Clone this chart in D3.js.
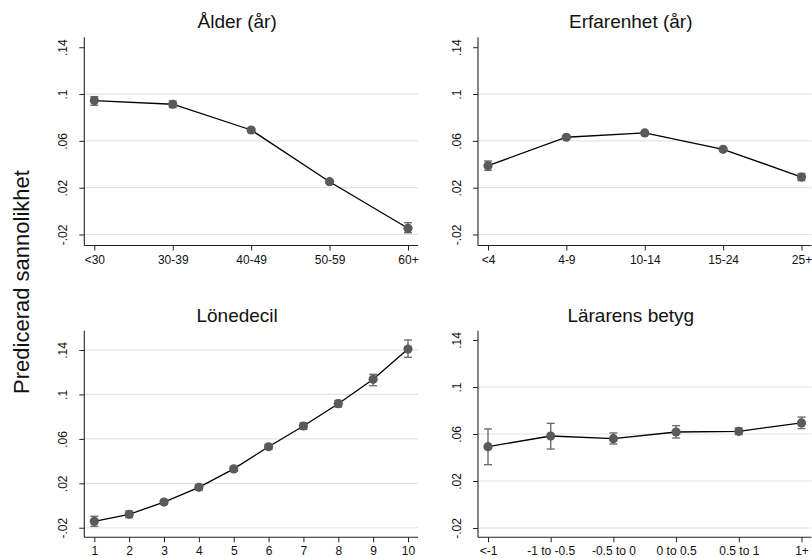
<!DOCTYPE html>
<html>
<head>
<meta charset="utf-8">
<script src="https://cdn.jsdelivr.net/npm/d3@7"></script>
<style>
  html, body { margin: 0; padding: 0; background: #fff; }
  svg { display: block; font-family: Arial, "Liberation Sans", Helvetica, sans-serif; }
</style>
</head>
<body>
<svg id="chart" width="812" height="558"></svg>
<script>
// Predicted probabilities with 95% confidence intervals, four panels.
const yTicks = [-0.02, 0.02, 0.06, 0.1, 0.14];
const yTickLabels = ["-.02", ".02", ".06", ".1", ".14"];

const ageTitle = "Ålder (år)";
const ageCats = ["<30", "30-39", "40-49", "50-59", "60+"];
const ageEst  = [0.0944, 0.0913, 0.0693, 0.0251, -0.0147];
const ageLo   = [0.0904, 0.0885, 0.0678, 0.0236, -0.0185];
const ageHi   = [0.0978, 0.0941, 0.0708, 0.0266, -0.0099];

const expTitle = "Erfarenhet (år)";
const expCats = ["<4", "4-9", "10-14", "15-24", "25+"];
const expEst  = [0.0388, 0.0631, 0.0668, 0.0528, 0.0291];
const expLo   = [0.0348, 0.0616, 0.0653, 0.0513, 0.0261];
const expHi   = [0.0428, 0.0646, 0.0683, 0.0543, 0.0321];

const wageTitle = "Lönedecil";
const wageCats = ["1", "2", "3", "4", "5", "6", "7", "8", "9", "10"];
const wageEst  = [-0.0142, -0.0079, 0.0031, 0.0164, 0.0330, 0.0529, 0.0716, 0.0917, 0.1136, 0.1409];
const wageLo   = [-0.0187, -0.0109, 0.0011, 0.0139, 0.0310, 0.0507, 0.0686, 0.0887, 0.1079, 0.1334];
const wageHi   = [-0.0097, -0.0049, 0.0051, 0.0189, 0.0350, 0.0551, 0.0746, 0.0947, 0.1181, 0.1490];

const gradeTitle = "Lärarens betyg";
const gradeCats = ["<-1", "-1 to -0.5", "-0.5 to 0", "0 to 0.5", "0.5 to 1", "1+"];
const gradeEst  = [0.0492, 0.0583, 0.0560, 0.0617, 0.0623, 0.0694];
const gradeLo   = [0.0339, 0.0472, 0.0515, 0.0566, 0.0595, 0.0646];
const gradeHi   = [0.0643, 0.0691, 0.0609, 0.0671, 0.0651, 0.0744];

const yAxisTitle = "Predicerad sannolikhet";

// Panel frames (plot-region boxes) and the y range each panel spans.
const panels = [
  { title: ageTitle,   cats: ageCats,   est: ageEst,   lo: ageLo,   hi: ageHi,
    x0: 84.3, x1: 418, y0: 37.3, y1: 245.5, dom: [-0.0294, 0.1485] },
  { title: expTitle,   cats: expCats,   est: expEst,   lo: expLo,   hi: expHi,
    x0: 478, x1: 811.5, y0: 37.3, y1: 245.5, dom: [-0.0294, 0.1485] },
  { title: wageTitle,  cats: wageCats,  est: wageEst,  lo: wageLo,  hi: wageHi,
    x0: 84.3, x1: 418, y0: 330.7, y1: 537.3, dom: [-0.0286, 0.1574] },
  { title: gradeTitle, cats: gradeCats, est: gradeEst, lo: gradeLo, hi: gradeHi,
    x0: 478, x1: 811.5, y0: 330.7, y1: 537.3, dom: [-0.0279, 0.1479] }
];

const svg = d3.select("#chart");

const markerColor = "#5a5a5a";
const ciColor = "#6e6e6e";

panels.forEach(p => {
  const g = svg.append("g");
  const x = d3.scalePoint().domain(p.cats).range([p.x0 + 10, p.x1 - 10]);
  const y = d3.scaleLinear().domain(p.dom).range([p.y1, p.y0]);

  // grid lines (skipped when the tick sits right under the top edge)
  g.selectAll("line.grid")
    .data(yTicks.filter(t => y(t) - p.y0 > 12))
    .join("line")
    .attr("x1", p.x0).attr("x2", p.x1)
    .attr("y1", d => y(d)).attr("y2", d => y(d))
    .attr("stroke", "#e3e3e3").attr("stroke-width", 1.2);

  // y axis
  const yAxis = d3.axisLeft(y).tickValues(yTicks)
    .tickFormat((d, i) => yTickLabels[i]).tickSize(5).tickPadding(0);
  const ya = g.append("g").attr("transform", `translate(${p.x0},0)`).call(yAxis);
  ya.select(".domain").attr("d", `M0,${p.y0}V${p.y1}`).attr("stroke", "#222").attr("stroke-width", 1.1);
  ya.selectAll(".tick line").attr("stroke", "#222").attr("stroke-width", 1);
  ya.selectAll(".tick text")
    .attr("x", null).attr("dy", null)
    .attr("transform", "translate(-17,0) rotate(-90)")
    .attr("text-anchor", "middle")
    .attr("fill", "#111")
    .style("font-size", "12px");

  // x axis
  const xAxis = d3.axisBottom(x).tickSize(5).tickPadding(4);
  const xa = g.append("g").attr("transform", `translate(0,${p.y1})`).call(xAxis);
  xa.select(".domain").attr("d", `M${p.x0},0H${p.x1}`).attr("stroke", "#222").attr("stroke-width", 1.1);
  xa.selectAll(".tick line").attr("stroke", "#222").attr("stroke-width", 1);
  xa.selectAll(".tick text")
    .attr("dy", null).attr("y", 18)
    .attr("fill", "#111")
    .style("font-size", "12px");

  // title
  g.append("text")
    .attr("x", (p.x0 + p.x1) / 2 - 14)
    .attr("y", p.y0 - 9)
    .attr("text-anchor", "middle")
    .attr("fill", "#111")
    .style("font-size", "19px")
    .text(p.title);

  const rows = p.cats.map((c, i) => ({ c, est: p.est[i], lo: p.lo[i], hi: p.hi[i] }));

  // connecting line
  g.append("path")
    .datum(rows)
    .attr("fill", "none").attr("stroke", "#000").attr("stroke-width", 1.3)
    .attr("d", d3.line().x(d => x(d.c)).y(d => y(d.est)));

  // confidence intervals
  const ci = g.selectAll("g.ci").data(rows).join("g").attr("class", "ci")
    .attr("stroke", ciColor).attr("stroke-width", 1.4);
  ci.append("line").attr("x1", d => x(d.c)).attr("x2", d => x(d.c))
    .attr("y1", d => y(d.lo)).attr("y2", d => y(d.hi));
  ci.append("line").attr("x1", d => x(d.c) - 4).attr("x2", d => x(d.c) + 4)
    .attr("y1", d => y(d.lo)).attr("y2", d => y(d.lo));
  ci.append("line").attr("x1", d => x(d.c) - 4).attr("x2", d => x(d.c) + 4)
    .attr("y1", d => y(d.hi)).attr("y2", d => y(d.hi));

  // point estimates
  g.selectAll("circle.pt").data(rows).join("circle")
    .attr("cx", d => x(d.c)).attr("cy", d => y(d.est))
    .attr("r", 4.6).attr("fill", markerColor);
});

// shared y-axis title
svg.append("text")
  .attr("transform", "translate(29,282) rotate(-90)")
  .attr("text-anchor", "middle")
  .attr("fill", "#111")
  .style("font-size", "22px")
  .text(yAxisTitle);
</script>
</body>
</html>
